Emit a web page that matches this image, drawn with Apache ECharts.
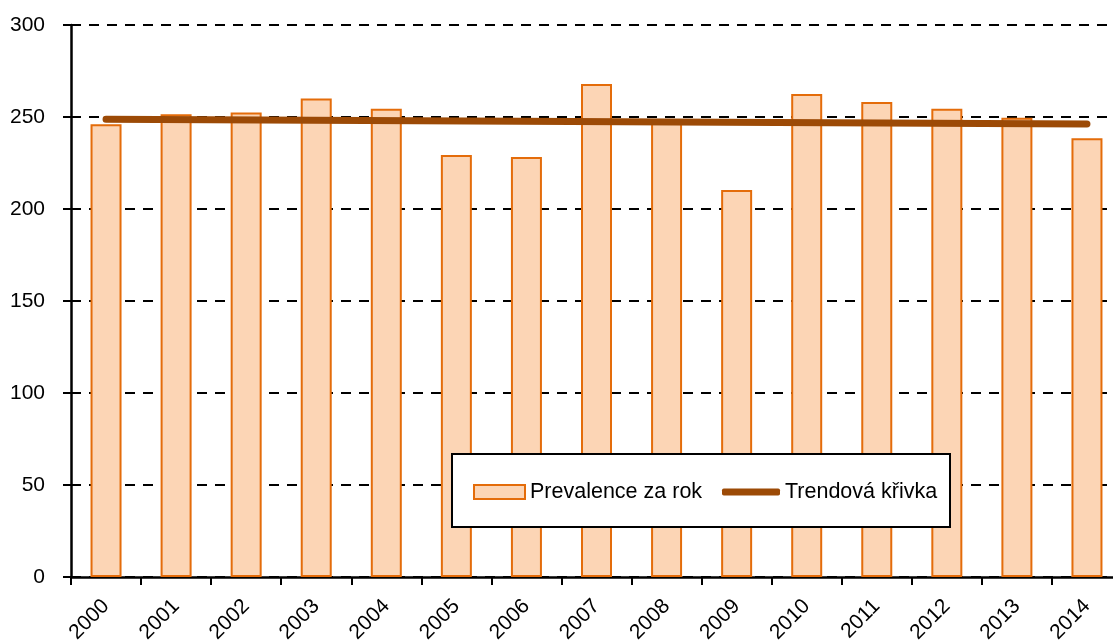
<!DOCTYPE html>
<html><head><meta charset="utf-8">
<script src="https://cdn.jsdelivr.net/npm/echarts@6/dist/echarts.min.js"></script>
<style>html,body{margin:0;padding:0;background:#fff;overflow:hidden;width:1113px;height:644px}#c{width:1122px;height:644px}</style>
</head><body><div id="c"></div>
<script>
const years = ['2000','2001','2002','2003','2004','2005','2006','2007','2008','2009','2010','2011','2012','2013','2014'];
const prevalence = [246.0, 251.5, 252.5, 260.0, 254.5, 229.3, 228.3, 267.9, 247.0, 210.3, 262.5, 258.2, 254.5, 249.6, 238.4];
const trend = [248.8, null, null, null, null, null, null, null, null, null, null, null, null, null, 246.2];
const yTicks = [0, 50, 100, 150, 200, 250, 300];

const FONT = 'Liberation Sans, Arial, sans-serif';
const chart = echarts.init(document.getElementById('c'), null, {renderer: 'canvas'});
chart.setOption({
  animation: false,
  backgroundColor: '#fff',
  textStyle: {fontFamily: FONT},
  grid: {left: 71, top: 25, right: 0, bottom: 67, containLabel: false, outerBoundsMode: 'none'},
  xAxis: {
    type: 'category', data: years, boundaryGap: true,
    axisLine: {show: true, lineStyle: {color: '#000', width: 2.5}},
    axisTick: {show: true, length: 8, lineStyle: {color: '#000', width: 2}},
    axisLabel: {rotate: 45, fontSize: 21, color: '#000', fontFamily: FONT, margin: 26},
    splitLine: {show: false}
  },
  yAxis: {
    type: 'value', min: yTicks[0], max: yTicks[yTicks.length - 1], interval: 50,
    axisLine: {show: true, lineStyle: {color: '#000', width: 2.5}},
    axisTick: {show: true, length: 8, lineStyle: {color: '#000', width: 2}},
    axisLabel: {fontSize: 21, color: '#000', fontFamily: FONT, margin: 26},
    splitLine: {show: true, lineStyle: {color: '#000', width: 2, type: [10, 8]}}
  },
  legend: [
    {left: 468, top: 476, itemWidth: 51, itemHeight: 14, itemGap: 10,
     textStyle: {fontSize: 21.5, color: '#000', fontFamily: FONT},
     data: [{name: 'Prevalence za rok', icon: 'rect'}]},
    {left: 717, top: 476, itemWidth: 58, itemHeight: 7, itemGap: 10,
     textStyle: {fontSize: 21.5, color: '#000', fontFamily: FONT},
     data: [{name: 'Trendová křivka', icon: 'roundRect', itemStyle: {color: '#9C4A06'}}]}
  ],
  graphic: [{
    type: 'rect', z: 3,
    shape: {x: 452, y: 454, width: 498, height: 73},
    style: {fill: '#fff', stroke: '#000', lineWidth: 2}
  }],
  series: [
    {name: 'Prevalence za rok', type: 'bar', data: prevalence, barWidth: 31,
     itemStyle: {color: '#FCD5B5', borderColor: '#E46C0A', borderWidth: 2}, z: 2},
    {name: 'Trendová křivka', type: 'line', data: trend, connectNulls: true,
     symbol: 'none', z: 2.5,
     lineStyle: {color: '#9C4A06', width: 7, cap: 'round'}, itemStyle: {color: '#9C4A06'}}
  ]
});
</script></body></html>
